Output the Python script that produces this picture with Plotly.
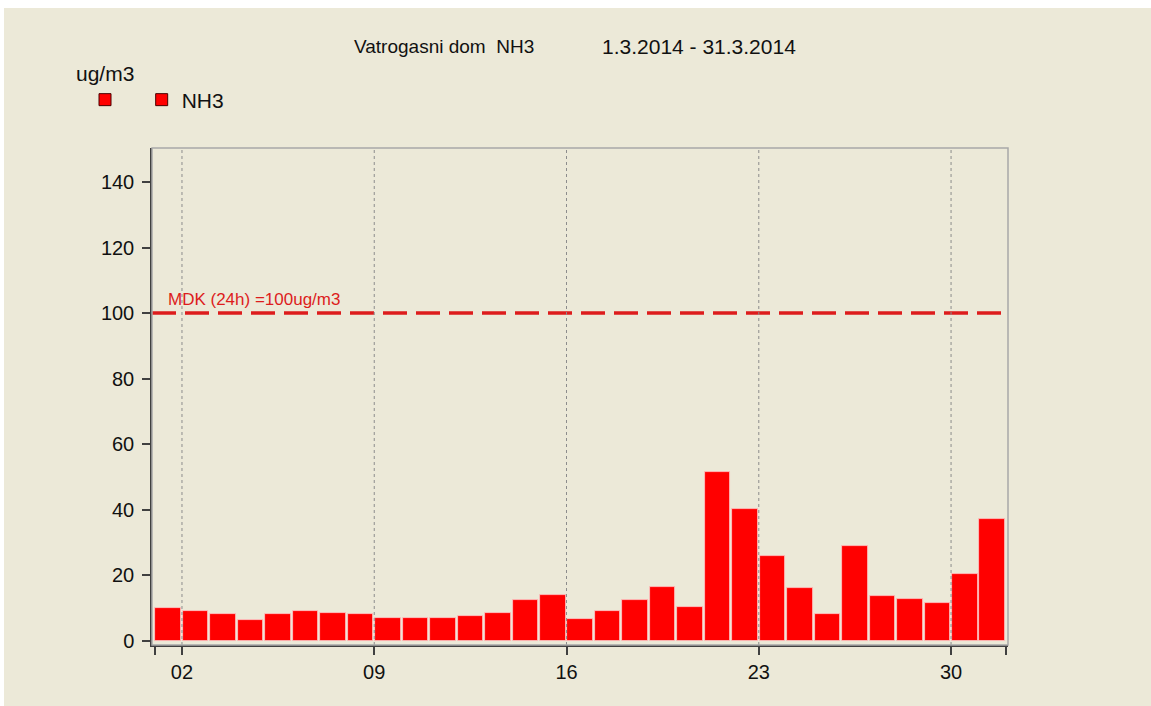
import plotly.graph_objects as go

# ---- data ----
days = list(range(1, 32))
nh3 = [10.0, 9.3, 8.2, 6.3, 8.2, 9.0, 8.6, 8.2, 7.1, 7.1, 7.1, 7.5, 8.6, 12.4, 14.0, 6.6,
       9.2, 12.4, 16.6, 10.4, 51.5, 40.4, 25.9, 16.3, 8.2, 28.9, 13.6, 12.8, 11.7, 20.5, 37.3]
tick_days = [1, 2, 9, 16, 23, 30, 32]
tick_labels = ["", "02", "09", "16", "23", "30", ""]
grid_days = [2, 9, 16, 23, 30]
y_ticks = [0, 20, 40, 60, 80, 100, 120, 140]
limit_value = 100
limit_label = "MDK (24h) =100ug/m3"
title_station = "Vatrogasni dom\u00a0\u00a0NH3"
title_period = "1.3.2014 - 31.3.2014"
unit_label = "ug/m3"
legend_names = ["\u00a0\u00a0", "NH3"]

BG = "#ECE9D8"
FONT = "Arial, Liberation Sans, sans-serif"
LEG_LINE = "#4A0000"

# plot area pixel geometry
L, R, T, B = 152, 1008, 148, 645
W, H = 1151, 706
pw, ph = R - L, B - T

def px_x(p):
    return (p - L) / pw

def px_y(p):
    return (B - p) / ph

fig = go.Figure()

# legend-only entries (empty-named series and NH3), dark-bordered squares
fig.add_trace(go.Bar(x=[None], y=[None], name=legend_names[0],
                     marker=dict(color="#FF0000", line=dict(color=LEG_LINE, width=1)),
                     showlegend=True, hoverinfo="skip"))
fig.add_trace(go.Bar(x=[None], y=[None], name=legend_names[1], legendgroup="nh3",
                     marker=dict(color="#FF0000", line=dict(color=LEG_LINE, width=1)),
                     showlegend=True, hoverinfo="skip"))
# data bars
fig.add_trace(go.Bar(
    x=[d + 0.5 for d in days], y=nh3, name=legend_names[1], legendgroup="nh3", width=0.93,
    marker=dict(color="#FF0000", line=dict(color="#FFC8C8", width=0.8)),
    showlegend=False,
))

# limit line
fig.add_hline(y=limit_value, line=dict(color="#DD1C1C", width=3.5, dash="24px,9px"), layer="above")
fig.add_annotation(x=1.42, y=limit_value, yshift=14, text=limit_label, showarrow=False,
                   xanchor="left", yanchor="middle", font=dict(family=FONT, size=17, color="#DD1C1C"))

# vertical dotted grid lines
for g in grid_days:
    fig.add_vline(x=g, line=dict(color="#8C8C8C", width=1, dash="3px,3px"), layer="above")

# background (white strip on top/left like the reference)
fig.add_shape(type="rect", xref="paper", yref="paper",
              x0=px_x(4), x1=px_x(W + 5), y0=px_y(H + 5), y1=px_y(8),
              fillcolor=BG, line=dict(width=0), layer="below")
# plot frame
fig.add_shape(type="rect", xref="paper", yref="paper", x0=0, x1=1, y0=0, y1=1,
              line=dict(color="#A8A8A8", width=1.5), layer="above")

# title and unit
fig.add_annotation(xref="paper", yref="paper", x=px_x(352), y=px_y(47), text=title_station, showarrow=False,
                   xanchor="left", yanchor="middle", font=dict(family=FONT, size=19, color="#111111"))
fig.add_annotation(xref="paper", yref="paper", x=px_x(699), y=px_y(47), text=title_period, showarrow=False,
                   xanchor="center", yanchor="middle", font=dict(family=FONT, size=21, color="#111111"))
fig.add_annotation(xref="paper", yref="paper", x=px_x(105), y=px_y(74), text=unit_label, showarrow=False,
                   xanchor="center", yanchor="middle", font=dict(family=FONT, size=21, color="#111111"))

fig.update_layout(
    width=W, height=H,
    margin=dict(l=L, r=W - R, t=T, b=H - B, pad=0),
    paper_bgcolor="white", plot_bgcolor="white",
    font=dict(family=FONT, size=20, color="#111111"),
    bargap=0,
    legend=dict(orientation="h", x=px_x(85), y=px_y(100), xanchor="left", yanchor="middle",
                bgcolor="rgba(0,0,0,0)", font=dict(family=FONT, size=21, color="#111111"),
                itemwidth=30, traceorder="normal"),
    xaxis=dict(range=[0.909, 32.073], tickmode="array", tickvals=tick_days, ticktext=tick_labels,
               showgrid=False, zeroline=False, showline=True, linecolor="#404040", linewidth=1.5,
               ticks="outside", ticklen=8, tickcolor="#404040", tickwidth=1.5,
               tickfont=dict(family=FONT, size=20, color="#111111")),
    yaxis=dict(range=[-1.22, 150.35], tickmode="array", tickvals=y_ticks,
               showgrid=False, zeroline=False, showline=True, linecolor="#404040", linewidth=1.5,
               ticks="outside", ticklen=8, tickcolor="#404040", tickwidth=1.5, ticklabelstandoff=4,
               tickfont=dict(family=FONT, size=20, color="#111111")),
    showlegend=True,
)

fig.write_html("out.html", config={"displayModeBar": False},
               post_script="document.body.style.margin='0px';")
